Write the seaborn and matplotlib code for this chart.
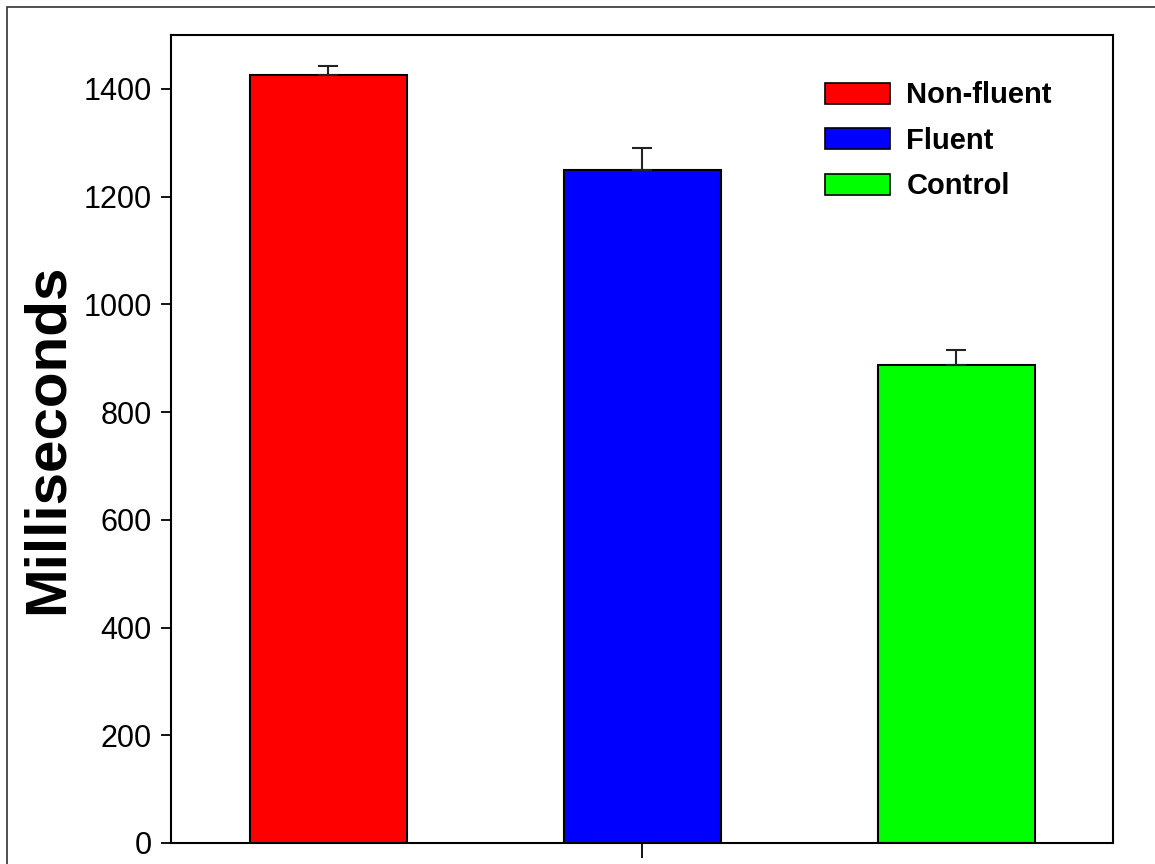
import matplotlib
matplotlib.use("Agg")
import matplotlib.pyplot as plt
from matplotlib.patches import Rectangle, Patch
import seaborn as sns
import pandas as pd

# values
groups = ["Non-fluent", "Fluent", "Control"]
means = [1426, 1249, 888]
errors = [16, 41, 28]
colors = ["#ff0000", "#0000ff", "#00ff00"]
y_ticks = [0, 200, 400, 600, 800, 1000, 1200, 1400]

df = pd.DataFrame({"group": groups, "ms": means})

sns.set_style("white")
plt.rcParams["font.family"] = ["Liberation Sans", "DejaVu Sans"]
plt.rcParams["text.color"] = "black"
plt.rcParams["axes.labelcolor"] = "black"
plt.rcParams["xtick.color"] = "black"
plt.rcParams["ytick.color"] = "black"

fig = plt.figure(figsize=(11.55, 8.64), dpi=100)
ax = fig.add_axes([171 / 1155, 21 / 864, (1113 - 171) / 1155, (843 - 35) / 864])

sns.barplot(
    data=df, x="group", y="ms", hue="group", order=groups,
    palette=colors, saturation=1, width=0.5, edgecolor="black", linewidth=1.5,
    legend=False, ax=ax,
)
ax.errorbar(
    range(len(groups)), means, yerr=[[0] * len(groups), errors],
    fmt="none", ecolor="#222222", elinewidth=1.5, capsize=7, capthick=1.5,
)

ax.set_xlim(-0.5, 2.5)
ax.set_ylim(0, 1500)
ax.set_yticks(y_ticks)
ax.set_yticklabels([str(t) for t in y_ticks], fontsize=22)
ax.set_xticks([1])
ax.set_xticklabels([""])
ax.tick_params(axis="y", direction="out", length=7, width=1.3, left=True, pad=7)
ax.tick_params(axis="x", direction="out", length=11, width=1.3, bottom=True)
ax.set_xlabel("")
ax.set_ylabel("Milliseconds", fontsize=42, fontweight="bold", labelpad=6)
for s in ax.spines.values():
    s.set_visible(True)
    s.set_color("black")
    s.set_linewidth(1.5)

handles = [Patch(facecolor=c, edgecolor="black", linewidth=1.2) for c in colors]
leg = ax.legend(
    handles, groups, loc="upper left", bbox_to_anchor=(0.666, 0.975),
    frameon=False, prop={"size": 21, "weight": "bold"},
    handlelength=2.25, handleheight=0.75, handletextpad=0.55, labelspacing=0.6,
)

# outer frame of the figure (only top and left edges fall inside the image)
fig.patches.append(Rectangle(
    (7 / 1155, -0.1), 1.2, 1 - 7 / 864 + 0.1, transform=fig.transFigure,
    fill=False, edgecolor="#333333", linewidth=1.2, zorder=0,
))

fig.savefig("out.png", dpi=100)
